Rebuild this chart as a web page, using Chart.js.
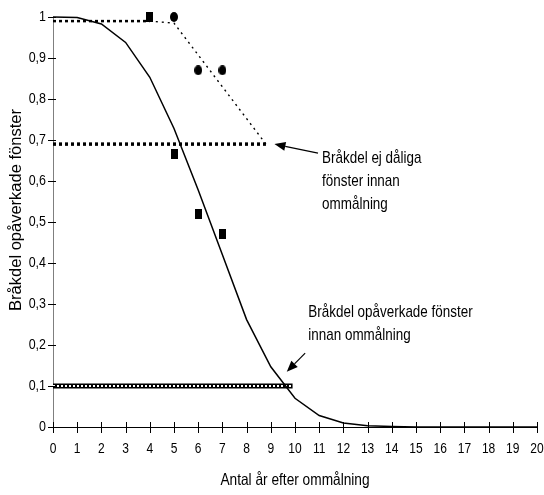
<!DOCTYPE html>
<html>
<head>
<meta charset="utf-8">
<script src="https://cdn.jsdelivr.net/npm/chart.js@4/dist/chart.umd.min.js"></script>
<style>
  html, body { margin: 0; padding: 0; background: #ffffff; }
  #wrap { width: 544px; height: 495px; position: relative; }
</style>
</head>
<body>
<div id="wrap"><canvas id="chart"></canvas></div>
<script>
// Years after repainting and the modelled share of unaffected windows
const years = [0, 1, 2, 3, 4, 5, 6, 7, 8, 9, 10, 11, 12, 13, 14, 15, 16, 17, 18, 19, 20];
const unaffectedShare = [1.0, 0.999, 0.983, 0.938, 0.853, 0.728, 0.578, 0.42, 0.262, 0.147, 0.07, 0.028, 0.01, 0.003, 0.001, 0, 0, 0, 0, 0, 0];

// Observed shares (squares: unaffected, circles: not bad)
const squareYears = [4, 5, 6, 7];
const squareShares = [1.0, 0.665, 0.52, 0.47];
const circleYears = [5, 6, 7];
const circleShares = [1.0, 0.87, 0.87];

// Trend for windows that are not in bad condition
const levelYears = [0, 4];
const levelShares = [0.99, 0.99];
const trendYears = [4, 5, 8.8];
const trendShares = [0.99, 0.985, 0.69];

// Shares before repainting
const notBadYears = [0, 8.8];
const notBadShares = [0.69, 0.69];
const unaffectedBeforeYears = [0, 9.9];
const unaffectedBeforeShares = [0.1, 0.1];

// Axis tick labels and titles
const xTickLabels = ['0','1','2','3','4','5','6','7','8','9','10','11','12','13','14','15','16','17','18','19','20'];
const yTickLabels = ['0','0,1','0,2','0,3','0,4','0,5','0,6','0,7','0,8','0,9','1'];
const xTitle = 'Antal år efter ommålning';
const yTitle = 'Bråkdel opåverkade fönster';

// Callout texts with arrow tail/tip in data units
const notes = [
  { lines: ['Bråkdel ej dåliga', 'fönster innan', 'ommålning'],
    tail: [10.95, 0.668], tip: [9.15, 0.69], text: [11.12, 0.655] },
  { lines: ['Bråkdel opåverkade fönster', 'innan ommålning'],
    tail: [10.42, 0.18], tip: [9.66, 0.135], text: [10.55, 0.28] }
];

const FONT = "'Liberation Sans', Arial, sans-serif";
const SQUEEZE = 0.83; // horizontal text condensing

function pairs(xs, ys) { return xs.map((x, i) => ({ x: x, y: ys[i] })); }

function markerCanvas(kind) {
  const c = document.createElement('canvas');
  c.width = kind === 'rect' ? 7 : 8;
  c.height = 10;
  const g = c.getContext('2d');
  g.fillStyle = '#000';
  if (kind === 'rect') {
    g.fillRect(0, 0, 7, 10);
  } else {
    g.beginPath();
    g.ellipse(4, 5, 4, 5, 0, 0, Math.PI * 2);
    g.fill();
  }
  return c;
}

function condensedText(ctx, text, x, y, align, size) {
  ctx.save();
  ctx.translate(x, y);
  ctx.scale(SQUEEZE, 1);
  ctx.font = size + 'px ' + FONT;
  ctx.textAlign = align;
  ctx.textBaseline = 'middle';
  ctx.fillText(text, 0, 0);
  ctx.restore();
}

// Tick marks crossing the axes, tick labels, axis titles and the callouts
const decorations = {
  id: 'decorations',
  afterDraw(chart) {
    const ctx = chart.ctx;
    const xs = chart.scales.x, ys = chart.scales.y;
    const area = chart.chartArea;
    ctx.save();
    ctx.lineWidth = 1;
    ctx.strokeStyle = '#000';
    ctx.fillStyle = '#000';
    ctx.beginPath();
    xs.ticks.forEach(t => {
      const px = Math.round(xs.getPixelForValue(t.value)) + 0.5;
      ctx.moveTo(px, area.bottom - 5);
      ctx.lineTo(px, area.bottom + 6);
    });
    ys.ticks.forEach(t => {
      const py = Math.round(ys.getPixelForValue(t.value)) + 0.5;
      ctx.moveTo(area.left - 5, py);
      ctx.lineTo(area.left + 3, py);
    });
    ctx.stroke();

    xs.ticks.forEach((t, i) => {
      condensedText(ctx, xTickLabels[i], xs.getPixelForValue(t.value), area.bottom + 22, 'center', 14.5);
    });
    ys.ticks.forEach((t, i) => {
      condensedText(ctx, yTickLabels[i], area.left - 7, ys.getPixelForValue(t.value), 'right', 15);
    });
    condensedText(ctx, xTitle, (area.left + area.right) / 2, 480, 'center', 16.5);

    // vertical axis title
    ctx.save();
    ctx.translate(16, 210);
    ctx.rotate(-Math.PI / 2);
    ctx.font = '16.5px ' + FONT;
    ctx.textAlign = 'center';
    ctx.textBaseline = 'middle';
    ctx.fillText(yTitle, 0, 0);
    ctx.restore();

    // callouts
    notes.forEach(n => {
      const tx = xs.getPixelForValue(n.tail[0]), ty = ys.getPixelForValue(n.tail[1]);
      const hx = xs.getPixelForValue(n.tip[0]), hy = ys.getPixelForValue(n.tip[1]);
      const ang = Math.atan2(hy - ty, hx - tx);
      const headLen = 11, headHalf = 4.5;
      const bx = hx - headLen * Math.cos(ang), by = hy - headLen * Math.sin(ang);
      ctx.beginPath();
      ctx.moveTo(tx, ty);
      ctx.lineTo(bx, by);
      ctx.lineWidth = 1.2;
      ctx.stroke();
      ctx.beginPath();
      ctx.moveTo(hx, hy);
      ctx.lineTo(bx - headHalf * Math.sin(ang), by + headHalf * Math.cos(ang));
      ctx.lineTo(bx + headHalf * Math.sin(ang), by - headHalf * Math.cos(ang));
      ctx.closePath();
      ctx.fill();
      const lx = xs.getPixelForValue(n.text[0]);
      const ly = ys.getPixelForValue(n.text[1]);
      n.lines.forEach((line, i) => condensedText(ctx, line, lx, ly + i * 23, 'left', 16.2));
    });
    ctx.restore();
  }
};

const lineBase = { showLine: true, pointRadius: 0, pointHoverRadius: 0, fill: false, tension: 0, clip: false };

new Chart(document.getElementById('chart'), {
  type: 'scatter',
  data: {
    datasets: [
      { label: 'Opåverkade (obs.)', data: pairs(squareYears, squareShares),
        pointStyle: markerCanvas('rect'), pointRadius: 5, clip: false },
      { label: 'Ej dåliga (obs.)', data: pairs(circleYears, circleShares),
        pointStyle: markerCanvas('circle'), pointRadius: 5, clip: false },
      Object.assign({ label: 'Opåverkade', data: pairs(years, unaffectedShare),
        borderColor: '#000', borderWidth: 1.5 }, lineBase),
      Object.assign({ label: 'Trend', data: pairs(trendYears, trendShares),
        borderColor: '#000', borderWidth: 1.4, borderDash: [2, 4] }, lineBase),
      Object.assign({ label: 'Nivå', data: pairs(levelYears, levelShares),
        borderColor: '#000', borderWidth: 2.5, borderDash: [3, 3] }, lineBase),
      Object.assign({ label: 'Ej dåliga innan ommålning', data: pairs(notBadYears, notBadShares),
        borderColor: '#000', borderWidth: 3.5, borderDash: [3, 3] }, lineBase),
      Object.assign({ label: 'Opåverkade innan ommålning (kärna)', data: pairs(unaffectedBeforeYears, unaffectedBeforeShares),
        borderColor: '#ffffff', borderWidth: 2, borderDash: [2, 2] }, lineBase),
      Object.assign({ label: 'Opåverkade innan ommålning', data: pairs(unaffectedBeforeYears, unaffectedBeforeShares),
        borderColor: '#000', borderWidth: 5 }, lineBase)
    ]
  },
  options: {
    responsive: true,
    maintainAspectRatio: false,
    animation: false,
    events: [],
    layout: { padding: { left: 0, right: 7, top: 17, bottom: 0 } },
    plugins: { legend: { display: false }, tooltip: { enabled: false } },
    scales: {
      x: {
        type: 'linear', min: 0, max: 20,
        afterFit(s) { s.height = 68; s.paddingLeft = 0; s.paddingRight = 0; },
        grid: { display: true, drawOnChartArea: false, drawTicks: false },
        border: { display: true, color: '#000', width: 1 },
        ticks: { stepSize: 1, display: false, autoSkip: false }
      },
      y: {
        type: 'linear', min: 0, max: 1,
        afterFit(s) { s.width = 53; s.paddingTop = 0; s.paddingBottom = 0; },
        grid: { display: true, drawOnChartArea: false, drawTicks: false },
        border: { display: true, color: '#7f7f7f', width: 1 },
        ticks: { stepSize: 0.1, display: false }
      }
    }
  },
  plugins: [decorations]
});
</script>
</body>
</html>
